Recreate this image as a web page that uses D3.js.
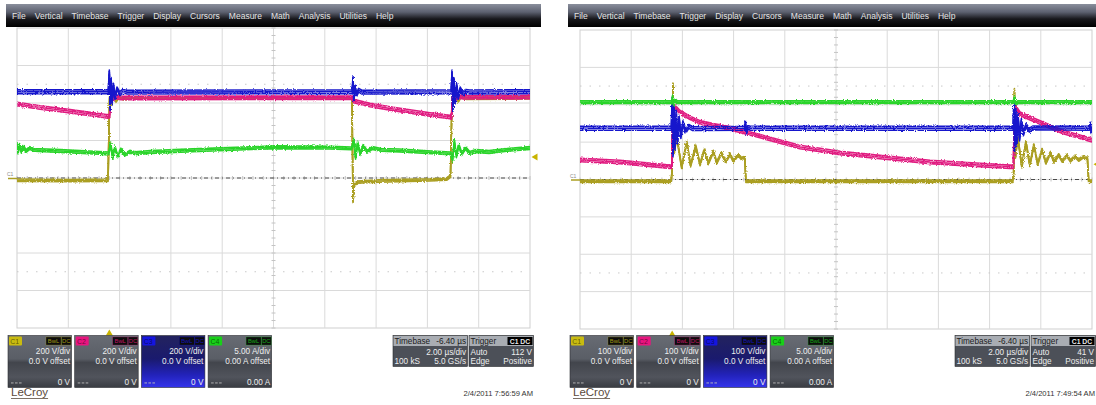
<!DOCTYPE html>
<html lang="en">
<head>
<meta charset="UTF-8">
<title>LeCroy captures</title>
<script src="https://cdnjs.cloudflare.com/ajax/libs/d3/7.8.5/d3.min.js"></script>
<style>
  body { margin: 0; background: #fff; }
  svg { display: block; font-family: "Liberation Sans", Arial, sans-serif; }
</style>
</head>
<body>
<svg id="scope" width="1096" height="405"></svg>
<script>
const menuItems = ["File", "Vertical", "Timebase", "Trigger", "Display", "Cursors", "Measure", "Math", "Analysis", "Utilities", "Help"];
const channelNames = ["C1", "C2", "C3", "C4"];
const offsetText = ["0.0 V offset", "0.0 V offset", "0.0 V offset", "0.00 A offset"];
const zeroText = ["0 V", "0 V", "0 V", "0.00 A"];
const timeDomain = [-3.6, 16.4]; // µs, 2 µs/div, trigger at 0

// ---- left capture (200 V/div) ----
const leftScale = [200, 200, 200, 5];
const leftScaleText = ["200 V/div", "200 V/div", "200 V/div", "5.00 A/div"];
const leftTimebase = ["-6.40 µs", "2.00 µs/div", "100 kS", "5.0 GS/s"];
const leftTrigger = ["Auto", "112 V", "Edge", "Positive"];
const leftTrigLevel = 112;
const leftDate = "2/4/2011 7:56:59 AM";

const leftC1 = [[-3.6, -12], [-1.5, -14], [-0.05, -12], [0.01, 430], [0.08, 395], [0.16, 445], [0.26, 410], [0.38, 435], [0.55, 422], [0.8, 427], [9.46, 427], [9.5, -125], [9.55, -40], [9.65, -22], [10.5, -16], [12.5, -10], [13.15, -6], [13.3, 10], [13.36, 427], [13.42, 385], [13.5, 448], [13.6, 412], [13.72, 435], [13.9, 425], [16.4, 428]];
const leftC2 = [[-3.6, 395], [-2.7, 376], [-1.6, 357], [-0.75, 341], [-0.05, 328], [0.01, 330], [0.04, 445], [0.12, 418], [0.25, 432], [0.45, 427], [9.46, 428], [9.52, 411], [10.16, 389], [10.94, 371], [11.72, 355], [12.5, 339], [13.28, 325], [13.34, 322], [13.38, 445], [13.48, 420], [13.6, 435], [13.8, 430], [16.4, 432]];
const leftC3 = [[-3.6, 460], [-0.04, 460], [0.0, 565], [0.03, 370], [0.07, 525], [0.11, 405], [0.16, 495], [0.22, 430], [0.3, 475], [0.4, 450], [0.52, 462], [0.7, 458], [9.47, 460], [9.5, 535], [9.53, 420], [9.58, 485], [9.64, 445], [9.72, 468], [9.85, 458], [13.33, 460], [13.36, 565], [13.39, 365], [13.43, 525], [13.48, 405], [13.54, 495], [13.6, 430], [13.68, 475], [13.78, 450], [13.9, 462], [14.05, 459], [16.4, 460]];
const leftC4 = [[-3.6, 4.6], [-3.56, 3.4], [-3.5, 4.4], [-3.43, 3.5], [-3.35, 4.2], [-3.25, 3.6], [-3.1, 4.0], [-2.95, 3.75], [-1.9, 3.6], [-0.4, 3.35], [-0.02, 3.27], [0.05, 4.6], [0.13, 2.7], [0.22, 4.1], [0.32, 2.9], [0.45, 3.8], [0.6, 3.1], [0.8, 3.5], [1.0, 3.3], [1.6, 3.47], [3.5, 3.73], [6.5, 4.1], [8.6, 4.05], [9.45, 3.95], [9.53, 5.1], [9.6, 2.7], [9.68, 4.7], [9.78, 3.2], [9.9, 4.3], [10.05, 3.5], [10.25, 4.0], [10.6, 3.75], [11.3, 3.67], [12.4, 3.45], [13.3, 3.29], [13.38, 2.4], [13.45, 4.9], [13.53, 2.9], [13.62, 4.4], [13.74, 3.2], [13.88, 4.0], [14.05, 3.35], [14.3, 3.6], [14.8, 3.47], [15.5, 3.75], [16.4, 4.0]];

// ---- right capture (100 V/div) ----
const rightScale = [100, 100, 100, 5];
const rightScaleText = ["100 V/div", "100 V/div", "100 V/div", "5.00 A/div"];
const rightTimebase = ["-6.40 µs", "2.00 µs/div", "100 kS", "5.0 GS/s"];
const rightTrigger = ["Auto", "41 V", "Edge", "Positive"];
const rightTrigLevel = 41;
const rightDate = "2/4/2011 7:49:54 AM";

const rightC1 = [[-3.6, -5], [-0.04, -5], [0.0, 25], [0.03, 255], [0.07, 70], [0.18, 113], [0.37, 33], [0.57, 100], [0.72, 37], [0.92, 89], [1.09, 40], [1.26, 81], [1.41, 43], [1.61, 75], [1.74, 45], [1.93, 71], [2.09, 47], [2.26, 68], [2.39, 49], [2.58, 66], [2.72, 55], [2.8, 60], [2.84, 56], [2.88, -5], [13.3, -5], [13.34, 20], [13.37, 240], [13.41, 60], [13.5, 114], [13.66, 34], [13.82, 101], [13.97, 38], [14.13, 92], [14.28, 41], [14.45, 80], [14.6, 44], [14.78, 72], [14.92, 47], [15.1, 66], [15.24, 49], [15.42, 64], [15.56, 50], [15.74, 62], [15.88, 52], [16.04, 60], [16.18, 56], [16.22, 57], [16.27, -5], [16.4, -5]];
const rightC2 = [[-3.6, 52], [-2.04, 47], [-0.48, 37], [-0.08, 34], [-0.01, 35], [0.02, 205], [0.1, 195], [0.31, 180], [0.7, 165], [1.09, 153], [1.6, 145], [2.26, 137], [3.43, 116], [4.99, 87], [6.56, 71], [8.12, 60], [10.07, 47], [12.03, 39], [13.2, 34], [13.33, 34], [13.37, 205], [13.45, 190], [13.59, 176], [13.98, 164], [14.63, 145], [15.27, 127], [16.4, 105]];
const rightC3 = [[-3.6, 137], [-0.03, 137], [0.0, 215], [0.03, 65], [0.07, 195], [0.11, 85], [0.16, 180], [0.21, 100], [0.27, 165], [0.34, 115], [0.42, 152], [0.52, 128], [0.65, 142], [0.8, 136], [2.82, 137], [2.86, 152], [2.9, 125], [2.96, 140], [3.05, 137], [13.32, 137], [13.35, 205], [13.38, 80], [13.42, 185], [13.46, 95], [13.51, 172], [13.57, 108], [13.64, 158], [13.72, 122], [13.82, 145], [13.95, 132], [14.1, 138], [16.3, 137], [16.33, 148], [16.37, 128], [16.4, 137]];
const rightC4 = [[-3.6, 10.35], [-0.02, 10.35], [0.02, 11.1], [0.06, 10.0], [0.12, 10.6], [0.2, 10.35], [13.33, 10.35], [13.37, 11.0], [13.42, 10.1], [13.5, 10.35], [16.4, 10.35]];

// styles
const chColors = ["#ab9f22", "#e01a80", "#1818cc", "#2ad42a"];
const chBadge = ["#c9bb10", "#e8157f", "#1515e0", "#18d018"];
const chSpread = [1.2, 1.7, 1.9, 1.4];

const svg = d3.select("#scope");
const defs = svg.append("defs");

function grad(id, stops) {
  const lg = defs.append("linearGradient").attr("id", id).attr("x1", 0).attr("y1", 0).attr("x2", 0).attr("y2", 1);
  stops.forEach(s => lg.append("stop").attr("offset", s[0]).attr("stop-color", s[1]));
}
grad("menuGrad", [[0, "#8a8f9c"], [0.35, "#5d6170"], [0.65, "#18181c"], [1, "#000"]]);
grad("panelGrad", [[0, "#676b73"], [0.45, "#5a5e66"], [0.52, "#42454c"], [0.8, "#51545c"], [1, "#393c42"]]);
grad("blueGrad", [[0, "#23235e"], [0.45, "#1a1a6e"], [0.75, "#2222b8"], [1, "#3434ec"]]);

// rough texture so the traces look like sampled noise bands
const rough = defs.append("filter").attr("id", "rough").attr("filterUnits", "userSpaceOnUse")
  .attr("x", 0).attr("y", 0).attr("width", 1096).attr("height", 405);
rough.append("feTurbulence").attr("type", "fractalNoise").attr("baseFrequency", 0.9).attr("numOctaves", 2).attr("seed", 4).attr("result", "n");
rough.append("feDisplacementMap").attr("in", "SourceGraphic").attr("in2", "n").attr("scale", 3)
  .attr("xChannelSelector", "R").attr("yChannelSelector", "G");

function drawChannelPanel(g, px, py, i, scaleText) {
  const w = 63.5, h = 52;
  g.append("rect").attr("x", px).attr("y", py).attr("width", w).attr("height", h)
    .attr("fill", i === 2 ? "url(#blueGrad)" : "url(#panelGrad)").attr("stroke", "#2c2e33").attr("stroke-width", 0.6);
  g.append("rect").attr("x", px + 1).attr("y", py + 1).attr("width", 13).attr("height", 9).attr("rx", 1).attr("fill", chBadge[i]);
  g.append("text").attr("x", px + 2.3).attr("y", py + 8.4).attr("font-size", 7).attr("fill", "rgba(0,0,0,0.55)").text(channelNames[i]);
  [["BwL", 38, 15], ["DC", 53.5, 9.5]].forEach(([lbl, dx, bw]) => {
    g.append("rect").attr("x", px + dx).attr("y", py + 1.5).attr("width", bw).attr("height", 8).attr("fill", "#0d0d0d")
      .attr("stroke", chBadge[i]).attr("stroke-opacity", 0.5).attr("stroke-width", 0.5);
    g.append("text").attr("x", px + dx + bw / 2).attr("y", py + 7.8).attr("text-anchor", "middle")
      .attr("font-size", 5.8).attr("fill", chBadge[i]).attr("fill-opacity", 0.8).text(lbl);
  });
  g.append("text").attr("x", px + w - 1.5).attr("y", py + 18).attr("text-anchor", "end").attr("font-size", 8.2).attr("fill", "#eee").text(scaleText[i]);
  g.append("text").attr("x", px + w - 1.5).attr("y", py + 28).attr("text-anchor", "end").attr("font-size", 8.2).attr("fill", "#eee").text(offsetText[i]);
  g.append("text").attr("x", px + w - 1.5).attr("y", py + h - 2.5).attr("text-anchor", "end").attr("font-size", 8.2).attr("fill", "#eee").text(zeroText[i]);
  [0, 4, 8].forEach(d => g.append("rect").attr("x", px + 3 + d).attr("y", py + h - 5).attr("width", 2.6).attr("height", 0.9).attr("fill", "#bbb"));
}

function drawInfoPanel(g, px, py, w, title, rows, badge) {
  g.append("rect").attr("x", px).attr("y", py).attr("width", w).attr("height", 31).attr("fill", "#4c5058").attr("stroke", "#2a2c30").attr("stroke-width", 0.6);
  g.append("rect").attr("x", px + 0.5).attr("y", py + 0.5).attr("width", w - 1).attr("height", 10).attr("fill", "#a9adb3");
  g.append("text").attr("x", px + 1.5).attr("y", py + 8.5).attr("font-size", 8.2).attr("fill", "#1c1c1c").text(title[0]);
  if (badge) {
    g.append("rect").attr("x", px + w - 26).attr("y", py + 1.5).attr("width", 25).attr("height", 8).attr("fill", "#000");
    g.append("text").attr("x", px + w - 13.5).attr("y", py + 8.2).attr("text-anchor", "middle").attr("font-size", 6.8).attr("font-weight", "bold").attr("fill", "#e8e8e8").text(title[1]);
  } else {
    g.append("text").attr("x", px + w - 1.5).attr("y", py + 8.5).attr("text-anchor", "end").attr("font-size", 8.2).attr("fill", "#1c1c1c").text(title[1]);
  }
  rows.forEach((r, k) => {
    if (r[0]) g.append("text").attr("x", px + 1.5).attr("y", py + 19 + k * 9.3).attr("font-size", 8.2).attr("fill", "#eee").text(r[0]);
    g.append("text").attr("x", px + w - 1.5).attr("y", py + 19 + k * 9.3).attr("text-anchor", "end").attr("font-size", 8.2).attr("fill", "#eee").text(r[1]);
  });
}

function drawScreen(cfg) {
  const g = svg.append("g");
  const ox = cfg.ox, P = cfg.plot;

  // menu bar
  g.append("rect").attr("x", ox + 6).attr("y", 4).attr("width", cfg.menuWidth).attr("height", 23).attr("fill", "url(#menuGrad)");
  let mx = ox + 12;
  menuItems.forEach(item => {
    const t = g.append("text").attr("x", mx).attr("y", 18.5).attr("font-size", 8.5).attr("fill", "#e4e4e4").text(item);
    mx += t.node().getComputedTextLength() + 9;
  });

  const x = d3.scaleLinear().domain(timeDomain).range([P.l, P.r]);
  const gx = d3.scaleLinear().domain([0, 10]).range([P.l, P.r]);
  const gy = d3.scaleLinear().domain([-4, 4]).range([P.b, P.t]);
  const ys = cfg.scale.map(s => d3.scaleLinear().domain([-4 * s, 4 * s]).range([P.b, P.t]));

  // graticule
  g.append("rect").attr("x", P.l).attr("y", P.t).attr("width", P.r - P.l).attr("height", P.b - P.t)
    .attr("fill", "#fff").attr("stroke", "#cfcfcf");
  const grid = g.append("g").attr("stroke", "#dadada").attr("stroke-width", 1);
  grid.selectAll("line.v").data(d3.range(1, 10)).join("line").attr("class", "v")
    .attr("x1", d => gx(d)).attr("x2", d => gx(d)).attr("y1", P.t).attr("y2", P.b);
  grid.selectAll("line.h").data(d3.range(-3, 4)).join("line").attr("class", "h")
    .attr("x1", P.l).attr("x2", P.r).attr("y1", d => gy(d)).attr("y2", d => gy(d));
  grid.selectAll("line.dot").data([-2.5, 2.5]).join("line").attr("class", "dot")
    .attr("x1", P.l).attr("x2", P.r).attr("y1", d => gy(d)).attr("y2", d => gy(d))
    .attr("stroke", "#c9c9c9").attr("stroke-dasharray", "1.5,8");
  grid.selectAll("line.tv").data(d3.range(-20, 21).map(k => k / 5)).join("line").attr("class", "tv")
    .attr("x1", gx(5) - 2).attr("x2", gx(5) + 2).attr("y1", d => gy(d)).attr("y2", d => gy(d)).attr("stroke", "#c4c4c4");
  grid.selectAll("line.th").data(d3.range(0, 51).map(k => k / 5)).join("line").attr("class", "th")
    .attr("x1", d => gx(d)).attr("x2", d => gx(d)).attr("y1", gy(0) - 2).attr("y2", gy(0) + 2).attr("stroke", "#c4c4c4");

  // C1 ground reference
  const y0 = ys[0](0);
  g.append("line").attr("x1", P.l).attr("x2", P.r).attr("y1", y0).attr("y2", y0)
    .attr("stroke", "#4a4a4a").attr("stroke-dasharray", "4,3,1,3");
  g.append("line").attr("x1", P.l - 9).attr("x2", P.l).attr("y1", y0 + 0.5).attr("y2", y0 + 0.5).attr("stroke", chColors[0]).attr("stroke-width", 1.5);
  g.append("text").attr("x", P.l - 10).attr("y", y0 - 2).attr("font-size", 5).attr("fill", "#8a8a8a").text("C1");

  // traces
  const clipId = "clip" + ox;
  defs.append("clipPath").attr("id", clipId).append("rect")
    .attr("x", P.l).attr("y", P.t).attr("width", P.r - P.l).attr("height", P.b - P.t);
  const tg = g.append("g").attr("clip-path", `url(#${clipId})`).append("g").attr("filter", "url(#rough)");
  cfg.traces.forEach((data, i) => {
    const line = d3.line().x(d => x(d[0])).y(d => ys[i](d[1]));
    [-chSpread[i], 0, chSpread[i]].forEach(dy => {
      tg.append("path").attr("d", line(data)).attr("transform", `translate(0,${dy})`)
        .attr("fill", "none").attr("stroke", chColors[i]).attr("stroke-width", 1.6).attr("stroke-linejoin", "round");
    });
  });

  // trigger time and level markers
  const xt = x(0);
  g.append("path").attr("d", `M${xt},${P.b + 1.5}l-3.5,6h7z`).attr("fill", "#c9b400");
  const yt = ys[0](cfg.trigLevel);
  g.append("path").attr("d", `M${P.r + 1.5},${yt}l6,-3.5v7z`).attr("fill", "#c9b400");

  // channel descriptors
  cfg.scaleText.forEach((_, i) => drawChannelPanel(g, ox + 8 + i * 66.7, 335.5, i, cfg.scaleText));
  drawInfoPanel(g, ox + 393, 335.5, 74.5, ["Timebase", cfg.timebase[0]],
    [["", cfg.timebase[1]], [cfg.timebase[2], cfg.timebase[3]]], false);
  drawInfoPanel(g, ox + 469, 335.5, 64.5, ["Trigger", "C1 DC"],
    [[cfg.trigger[0], cfg.trigger[1]], [cfg.trigger[2], cfg.trigger[3]]], true);

  g.append("text").attr("x", ox + 533).attr("y", 396).attr("text-anchor", "end").attr("font-size", 7.6).attr("fill", "#333").text(cfg.date);
  const logo = g.append("text").attr("x", ox + 11).attr("y", 396).attr("font-size", 11.5).attr("fill", "#5b4b3c").text("LeCroy");
  const lw = logo.node().getComputedTextLength();
  g.append("line").attr("x1", ox + 11).attr("x2", ox + 11 + lw).attr("y1", 398.5).attr("y2", 398.5).attr("stroke", "#5b4b3c").attr("stroke-width", 0.8);
}

drawScreen({
  ox: 0, menuWidth: 535, plot: { l: 17, r: 530, t: 28, b: 328 },
  scale: leftScale, scaleText: leftScaleText, traces: [leftC1, leftC2, leftC3, leftC4],
  timebase: leftTimebase, trigger: leftTrigger, trigLevel: leftTrigLevel, date: leftDate
});
drawScreen({
  ox: 562, menuWidth: 528, plot: { l: 580, r: 1092, t: 30, b: 329 },
  scale: rightScale, scaleText: rightScaleText, traces: [rightC1, rightC2, rightC3, rightC4],
  timebase: rightTimebase, trigger: rightTrigger, trigLevel: rightTrigLevel, date: rightDate
});
</script>
</body>
</html>
